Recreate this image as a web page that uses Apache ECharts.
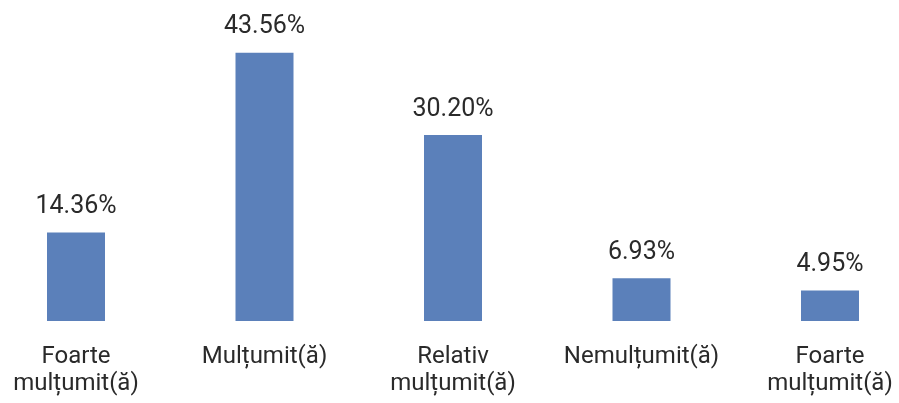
<!DOCTYPE html>
<html>
<head>
<meta charset="utf-8">
<script src="https://cdn.jsdelivr.net/npm/echarts@6/dist/echarts.min.js"></script>
<style>
  html, body { margin: 0; padding: 0; background: #fff; }
  #Canvas1 { width: 899px; height: 403px; }
</style>
</head>
<body>
<div id="Canvas1"></div>
<script>
// categories + values
var categories = ['Foarte\nmulțumit(ă)', 'Mulțumit(ă)', 'Relativ\nmulțumit(ă)', 'Nemulțumit(ă)', 'Foarte\nmulțumit(ă)'];
var values = [14.36, 43.56, 30.20, 6.93, 4.95];

var myChart1 = echarts.init(document.getElementById('Canvas1'));
var option1 = {
    animation: false,
    grid: {
        left: 76,
        right: 69,
        top: 13,
        bottom: 82
    },
    xAxis: {
        type: 'category',
        data: categories,
        boundaryGap: false,
        axisLine: { show: false },
        axisTick: { show: false },
        axisLabel: {
            interval: 0,
            margin: 22,
            fontFamily: 'Roboto',
            fontSize: 24,
            lineHeight: 27,
            color: '#2a2a2a'
        }
    },
    yAxis: {
        type: 'value',
        min: 0,
        max: 50,
        show: false,
        splitLine: { show: false }
    },
    series: [
        {
            type: 'bar',
            data: values,
            barWidth: 58,
            itemStyle: { color: '#5b80ba' },
            label: {
                show: true,
                position: 'top',
                distance: 13,
                fontFamily: 'Roboto',
                fontSize: 25,
                color: '#2a2a2a',
                formatter: function (p) { return p.value.toFixed(2) + '%'; }
            }
        }
    ]
};
myChart1.setOption(option1);
</script>
</body>
</html>
